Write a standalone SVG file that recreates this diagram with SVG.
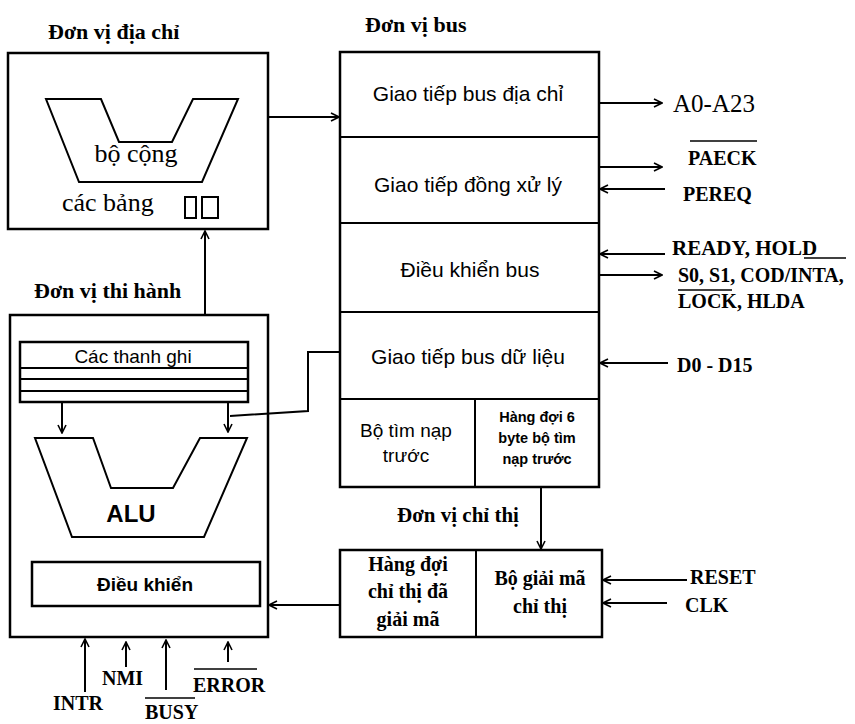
<svg xmlns="http://www.w3.org/2000/svg" width="855" height="724" viewBox="0 0 855 724">
<defs>
<marker id="ah" viewBox="0 0 10 10" refX="9" refY="5" markerWidth="10" markerHeight="10" markerUnits="userSpaceOnUse" orient="auto">
<path d="M1,1 L9,5 L1,9" fill="none" stroke="#000" stroke-width="1.6"/>
</marker>
<style>
.box{fill:none;stroke:#000;stroke-width:2.5}
.ln{fill:none;stroke:#000;stroke-width:2}
.arr{fill:none;stroke:#000;stroke-width:2;marker-end:url(#ah)}
.ttl{font-family:"Liberation Serif",serif;font-weight:bold;font-size:22px;fill:#000}
.lbl{font-family:"Liberation Serif",serif;font-weight:bold;font-size:20px;fill:#000}
.sans{font-family:"Liberation Sans","DejaVu Sans",sans-serif;font-size:21px;fill:#000;text-anchor:middle}
.ser{font-family:"Liberation Serif",serif;font-size:26px;fill:#000}
.bs{font-family:"Liberation Serif",serif;font-weight:bold;font-size:20px;fill:#000;text-anchor:middle}
</style>
</defs>
<rect width="855" height="724" fill="#fff"/>

<g id="address-unit">
<text class="ttl" x="48" y="39">Đơn vị địa chỉ</text>
<rect class="box" x="8" y="53" width="260" height="176"/>
<path class="ln" d="M46,99 L101,99 L119,142 L172,142 L193,99 L238,99 L202,182 L79,182 Z"/>
<text class="ser" x="136" y="162" text-anchor="middle">bộ cộng</text>
<text class="ser" x="62" y="211">các bảng</text>
<rect class="ln" x="185" y="197" width="11" height="21"/>
<rect class="ln" x="202" y="197" width="16" height="21"/>
</g>

<g id="bus-unit">
<text class="ttl" x="365" y="32">Đơn vị bus</text>
<rect class="box" x="340" y="52" width="259" height="435"/>
<line class="ln" x1="340" y1="137" x2="599" y2="137"/>
<line class="ln" x1="340" y1="223" x2="599" y2="223"/>
<line class="ln" x1="340" y1="312" x2="599" y2="312"/>
<line class="ln" x1="340" y1="399" x2="599" y2="399"/>
<line class="ln" x1="475" y1="399" x2="475" y2="487"/>
<text class="sans" x="468" y="101">Giao tiếp bus địa chỉ</text>
<text class="sans" x="468" y="192">Giao tiếp đồng xử lý</text>
<text class="sans" x="470" y="277">Điều khiển bus</text>
<text class="sans" x="468" y="364">Giao tiếp bus dữ liệu</text>
<text class="sans" x="406" y="437" style="font-size:19px">Bộ tìm nạp</text>
<text class="sans" x="406" y="462" style="font-size:19px">trước</text>
<text class="sans" x="537" y="422" style="font-size:14.5px;font-weight:bold">Hàng đợi 6</text>
<text class="sans" x="537" y="443" style="font-size:14.5px;font-weight:bold">byte bộ tìm</text>
<text class="sans" x="537" y="464" style="font-size:14.5px;font-weight:bold">nạp trước</text>
</g>

<g id="execution-unit">
<text class="ttl" x="34" y="298">Đơn vị thi hành</text>
<rect class="box" x="10" y="315" width="258" height="322"/>
<rect class="box" x="20" y="342" width="228" height="60"/>
<line class="ln" x1="20" y1="368" x2="248" y2="368"/>
<line class="ln" x1="20" y1="379" x2="248" y2="379"/>
<line class="ln" x1="20" y1="391" x2="248" y2="391"/>
<text class="sans" x="133" y="363" style="font-size:19px">Các thanh ghi</text>
<path class="ln" d="M35,438 L93,438 L111,488 L173,488 L200,438 L247,438 L204,537 L72,537 Z"/>
<text x="131" y="522" style="font-family:'Liberation Sans',sans-serif;font-weight:bold;font-size:24px;text-anchor:middle">ALU</text>
<rect class="box" x="32" y="562" width="228" height="44"/>
<text class="sans" x="145" y="591" style="font-size:19px;font-weight:bold">Điều khiển</text>
</g>

<g id="instruction-unit">
<text class="ttl" x="397" y="522" style="font-size:21px">Đơn vị chỉ thị</text>
<rect class="box" x="340" y="550" width="262" height="87"/>
<line class="ln" x1="476" y1="550" x2="476" y2="637"/>
<text class="bs" x="408" y="571">Hàng đợi</text>
<text class="bs" x="408" y="598">chỉ thị đã</text>
<text class="bs" x="408" y="626">giải mã</text>
<text class="bs" x="540" y="585">Bộ giải mã</text>
<text class="bs" x="540" y="613">chỉ thị</text>
</g>

<g id="signals">
<text x="673" y="112" style="font-family:'Liberation Serif',serif;font-size:25px">A0-A23</text>
<text class="lbl" x="688" y="165">PAECK</text>
<line x1="690" y1="141" x2="757" y2="141" stroke="#000" stroke-width="1.6"/>
<text class="lbl" x="683" y="201">PEREQ</text>
<text class="lbl" x="672" y="255" style="font-size:21px">READY, HOLD</text>
<line x1="804" y1="258" x2="846" y2="258" stroke="#000" stroke-width="1.6"/>
<text class="lbl" x="678" y="282">S0, S1, COD/INTA,</text>
<text class="lbl" x="678" y="308">LOCK, HLDA</text>
<line x1="678" y1="290" x2="732" y2="290" stroke="#000" stroke-width="1.6"/>
<text class="lbl" x="677" y="372">D0 - D15</text>
<text class="lbl" x="690" y="584">RESET</text>
<text class="lbl" x="685" y="612">CLK</text>
<text class="lbl" x="53" y="710">INTR</text>
<text class="lbl" x="102" y="685">NMI</text>
<text class="lbl" x="145" y="719">BUSY</text>
<line x1="145" y1="698" x2="195" y2="698" stroke="#000" stroke-width="1.6"/>
<text class="lbl" x="193" y="692">ERROR</text>
<line x1="194" y1="669" x2="257" y2="669" stroke="#000" stroke-width="1.6"/>
</g>

<g id="connectors">
<line class="arr" x1="268" y1="117" x2="339" y2="117"/>
<line class="arr" x1="205" y1="315" x2="205" y2="231"/>
<line class="arr" x1="599" y1="103" x2="662" y2="103"/>
<line class="arr" x1="599" y1="167" x2="662" y2="167"/>
<line class="arr" x1="665" y1="189" x2="600" y2="189"/>
<line class="arr" x1="665" y1="254" x2="600" y2="254"/>
<line class="arr" x1="599" y1="275" x2="662" y2="275"/>
<line class="arr" x1="668" y1="363" x2="600" y2="363"/>
<line class="arr" x1="541" y1="487" x2="541" y2="549"/>
<line class="arr" x1="687" y1="580" x2="603" y2="580"/>
<line class="arr" x1="667" y1="603" x2="603" y2="603"/>
<line class="arr" x1="340" y1="605" x2="269" y2="605"/>
<line class="arr" x1="62" y1="403" x2="62" y2="433"/>
<line class="arr" x1="228" y1="403" x2="228" y2="432"/>
<polyline class="ln" points="339,352 308,352 308,411 230,416"/>
<line class="arr" x1="85" y1="692" x2="85" y2="639"/>
<line class="arr" x1="126" y1="667" x2="126" y2="642"/>
<line class="arr" x1="166" y1="690" x2="166" y2="640"/>
<line class="arr" x1="228" y1="662" x2="228" y2="642"/>
</g>
</svg>
